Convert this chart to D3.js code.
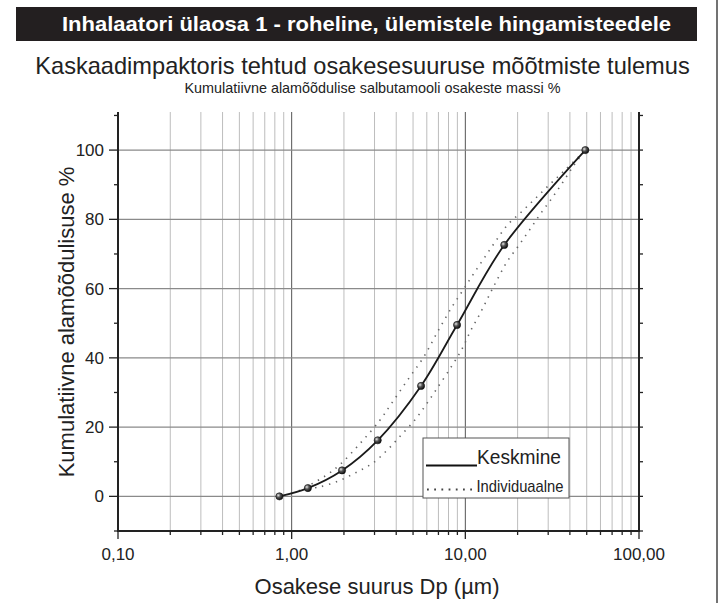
<!DOCTYPE html>
<html>
<head>
<meta charset="utf-8">
<script src="https://cdn.jsdelivr.net/npm/d3@7"></script>
<style>
  body { margin: 0; background: #fff; }
  svg { font-family: "Liberation Sans", Arial, sans-serif; }
</style>
</head>
<body>
<div id="chart"></div>
<script>
// Kaskaadimpaktori tulemused - kumulatiivne jaotus

const width = 719,
    height = 603,
    margin = ({ top: 112, right: 80, bottom: 72, left: 118 });

// keskmine (markeritega)
const sizes = [0.85, 1.24, 1.95, 3.13, 5.56, 8.96, 16.75, 49.1];
const meanPct = [0, 2.4, 7.5, 16.2, 31.9, 49.5, 72.6, 100];

// individuaalsed kõverad (punktiir)
const upperSizes = [1.1, 1.55, 1.89, 2.49, 3.2, 3.71, 4.62, 5.75, 6.97, 8.45, 9.77, 11.2, 13.0, 15.0, 17.5, 21.2, 25.5, 30.8, 37.1, 49.1];
const upperPct = [1.6, 5.8, 9.1, 15.4, 21.8, 26.4, 33.4, 40.2, 47.8, 55.0, 59.8, 64.4, 69.2, 73.8, 78.4, 82.3, 86.2, 90.2, 94.0, 100];
const lowerSizes = [1.24, 1.44, 1.85, 2.35, 2.93, 3.57, 4.27, 5.09, 5.89, 6.79, 8.39, 9.58, 10.7, 12.1, 13.6, 15.3, 17.4, 20.2, 23.4, 27.0, 31.5, 36.4, 42.3, 49.1];
const lowerPct = [2.2, 2.7, 4.4, 6.9, 9.6, 13.5, 17.7, 21.9, 26.2, 30.8, 37.8, 42.6, 47.7, 52.6, 57.7, 62.7, 67.8, 72.3, 76.9, 81.5, 86.1, 90.7, 95.7, 100];

const xTicks = [0.1, 1, 10, 100];
const xTickLabels = ["0,10", "1,00", "10,00", "100,00"];
const yTicks = [0, 20, 40, 60, 80, 100];
const legendLabels = ["Keskmine", "Individuaalne"];

const svg = d3.select("#chart")
    .append("svg")
    .attr("width", width)
    .attr("height", height);

const defs = svg.append("defs");
const grad = defs.append("radialGradient")
    .attr("id", "ball")
    .attr("cx", "35%").attr("cy", "35%").attr("r", "65%");
grad.append("stop").attr("offset", "0%").attr("stop-color", "#e8e8e8");
grad.append("stop").attr("offset", "45%").attr("stop-color", "#555");
grad.append("stop").attr("offset", "100%").attr("stop-color", "#111");

// header bar
svg.append("rect")
    .attr("x", 16).attr("y", 7)
    .attr("width", 681).attr("height", 34)
    .attr("fill", "#231f20");
svg.append("text")
    .attr("x", 366.5).attr("y", 31)
    .attr("text-anchor", "middle")
    .attr("fill", "#fff")
    .attr("font-weight", "bold")
    .attr("font-size", 21)
    .attr("textLength", 609).attr("lengthAdjust", "spacingAndGlyphs")
    .text("Inhalaatori ülaosa 1 - roheline, ülemistele hingamisteedele");

// right border line
svg.append("line")
    .attr("x1", 717).attr("x2", 717)
    .attr("y1", 0).attr("y2", height)
    .attr("stroke", "#444").attr("stroke-width", 1.5);

svg.append("text")
    .attr("x", 362.5).attr("y", 74)
    .attr("text-anchor", "middle")
    .attr("font-size", 23.6)
    .attr("fill", "#222")
    .text("Kaskaadimpaktoris tehtud osakesesuuruse mõõtmiste tulemus");

svg.append("text")
    .attr("x", 372.5).attr("y", 93)
    .attr("text-anchor", "middle")
    .attr("font-size", 14.4)
    .attr("fill", "#222")
    .text("Kumulatiivne alamõõdulise salbutamooli osakeste massi %");

const x = d3.scaleLog()
    .domain([0.1, 100])
    .range([margin.left, width - margin.right]);

const y = d3.scaleLinear()
    .domain([-10, 111])
    .range([height - margin.bottom, margin.top]);

// vertical grid
const minorX = [];
for (let e of [0.1, 1, 10]) {
  for (let m = 2; m <= 9; m++) minorX.push(+(m * e).toPrecision(3));
}
svg.append("g")
  .selectAll("line")
  .data(minorX)
  .join("line")
    .attr("x1", d => x(d)).attr("x2", d => x(d))
    .attr("y1", y(111)).attr("y2", y(-10))
    .attr("stroke", "#bdbdbd").attr("stroke-width", 1);

svg.append("g")
  .selectAll("line")
  .data([1, 10])
  .join("line")
    .attr("x1", d => x(d)).attr("x2", d => x(d))
    .attr("y1", y(111)).attr("y2", y(-10))
    .attr("stroke", "#555").attr("stroke-width", 1);

// horizontal grid
svg.append("g")
  .selectAll("line")
  .data(yTicks)
  .join("line")
    .attr("x1", x(0.1)).attr("x2", x(100))
    .attr("y1", d => y(d)).attr("y2", d => y(d))
    .attr("stroke", "#8a8a8a").attr("stroke-width", 1.2);

// axes
const yAll = d3.range(-10, 111, 10);

const axisG = svg.append("g").attr("stroke", "#222");
axisG.append("line")
    .attr("x1", x(0.1)).attr("x2", x(0.1))
    .attr("y1", y(111)).attr("y2", y(-10))
    .attr("stroke-width", 2);
axisG.append("line")
    .attr("x1", x(100)).attr("x2", x(100))
    .attr("y1", y(111)).attr("y2", y(-10))
    .attr("stroke-width", 2);
axisG.append("line")
    .attr("x1", x(0.1) - 1).attr("x2", x(100) + 1)
    .attr("y1", y(-10)).attr("y2", y(-10))
    .attr("stroke-width", 2);

// left ticks
axisG.selectAll(".lt")
  .data(yAll)
  .join("line")
    .attr("x1", d => x(0.1) - (d % 20 === 0 ? 9 : 4)).attr("x2", x(0.1))
    .attr("y1", d => y(d)).attr("y2", d => y(d))
    .attr("stroke-width", 1.3);
// right ticks
axisG.selectAll(".rt")
  .data(yAll)
  .join("line")
    .attr("x1", x(100)).attr("x2", x(100) + 4)
    .attr("y1", d => y(d)).attr("y2", d => y(d))
    .attr("stroke-width", 1.3);
// bottom ticks
axisG.selectAll(".bt")
  .data(xTicks.concat(minorX))
  .join("line")
    .attr("x1", d => x(d)).attr("x2", d => x(d))
    .attr("y1", y(-10)).attr("y2", d => y(-10) + (xTicks.includes(d) ? 8 : 4))
    .attr("stroke-width", 1.3);

svg.append("g")
  .selectAll("text")
  .data(yTicks)
  .join("text")
    .attr("x", x(0.1) - 14)
    .attr("y", d => y(d))
    .attr("dy", "0.36em")
    .attr("text-anchor", "end")
    .attr("font-size", 17)
    .attr("fill", "#222")
    .text(d => d);

svg.append("g")
  .selectAll("text")
  .data(xTicks)
  .join("text")
    .attr("x", d => x(d))
    .attr("y", 560)
    .attr("text-anchor", "middle")
    .attr("font-size", 17)
    .attr("fill", "#222")
    .text((d, i) => xTickLabels[i]);

// axis titles
svg.append("text")
    .attr("x", 377).attr("y", 594)
    .attr("text-anchor", "middle")
    .attr("font-size", 22)
    .attr("fill", "#222")
    .text("Osakese suurus Dp (µm)");

svg.append("text")
    .attr("transform", "translate(74,322) rotate(-90)")
    .attr("text-anchor", "middle")
    .attr("font-size", 22)
    .attr("fill", "#222")
    .text("Kumulatiivne alamõõdulisuse %");

// lines
const line = d3.line()
    .x(d => x(d[0]))
    .y(d => y(d[1]))
    .curve(d3.curveCatmullRom.alpha(0.5));

const dotted = [d3.zip(upperSizes, upperPct), d3.zip(lowerSizes, lowerPct)];
svg.append("g")
  .selectAll("path")
  .data(dotted)
  .join("path")
    .attr("d", line)
    .attr("fill", "none")
    .attr("stroke", "#666")
    .attr("stroke-width", 1.6)
    .attr("stroke-dasharray", "1.4 5.8");

const meanData = d3.zip(sizes, meanPct);
svg.append("path")
    .datum(meanData)
    .attr("d", line)
    .attr("fill", "none")
    .attr("stroke", "#1a1a1a")
    .attr("stroke-width", 1.8);

svg.append("g")
  .selectAll("circle")
  .data(meanData)
  .join("circle")
    .attr("cx", d => x(d[0]))
    .attr("cy", d => y(d[1]))
    .attr("r", 3.6)
    .attr("fill", "url(#ball)")
    .attr("stroke", "#111")
    .attr("stroke-width", 0.6);

// legend
const lg = svg.append("g").attr("transform", "translate(423,438)");
lg.append("rect")
    .attr("width", 146).attr("height", 60)
    .attr("fill", "#fff")
    .attr("stroke", "#555").attr("stroke-width", 1);
lg.append("line")
    .attr("x1", 3).attr("x2", 54)
    .attr("y1", 27.5).attr("y2", 27.5)
    .attr("stroke", "#111").attr("stroke-width", 2);
lg.append("text")
    .attr("x", 54).attr("y", 25.5)
    .attr("font-size", 20)
    .attr("textLength", 84).attr("lengthAdjust", "spacingAndGlyphs")
    .attr("fill", "#222")
    .text(legendLabels[0]);
lg.append("line")
    .attr("x1", 4).attr("x2", 53)
    .attr("y1", 51.5).attr("y2", 51.5)
    .attr("stroke", "#444").attr("stroke-width", 1.8)
    .attr("stroke-dasharray", "1.8 5.4");
lg.append("text")
    .attr("x", 53.5).attr("y", 54)
    .attr("font-size", 17)
    .attr("textLength", 87).attr("lengthAdjust", "spacingAndGlyphs")
    .attr("fill", "#222")
    .text(legendLabels[1]);
</script>
</body>
</html>
